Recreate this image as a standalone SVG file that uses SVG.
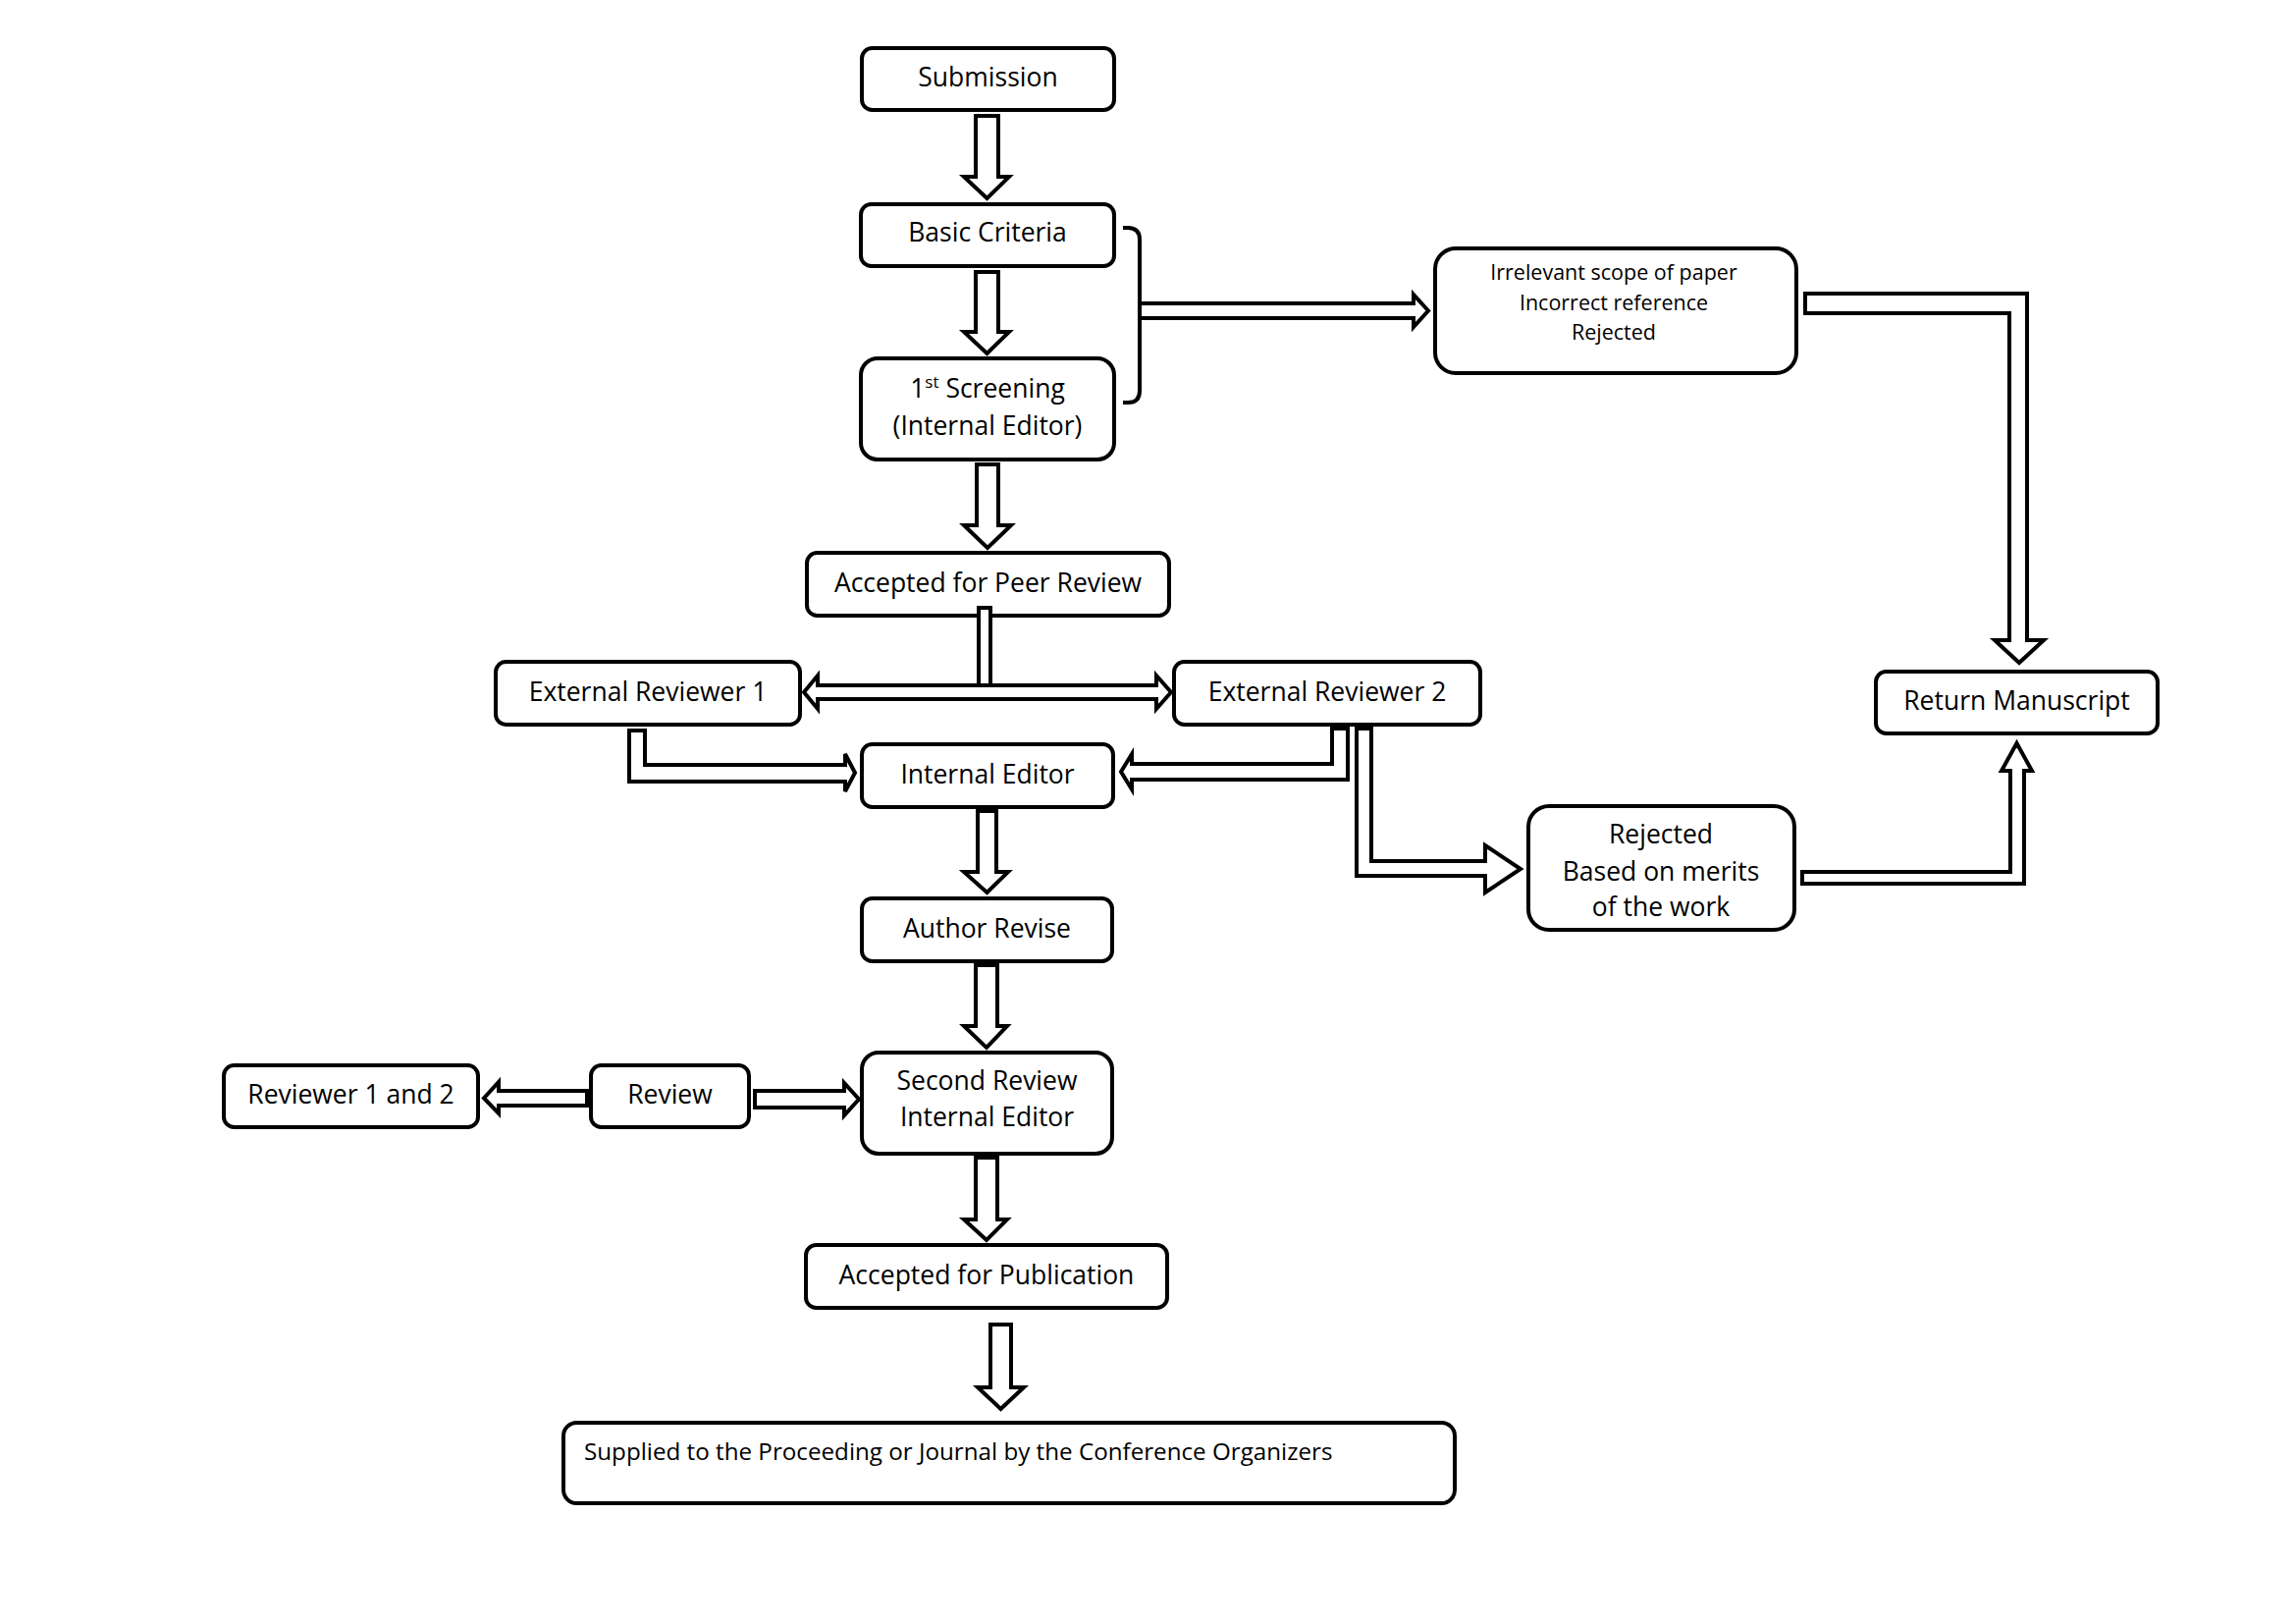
<svg xmlns="http://www.w3.org/2000/svg" width="2339" height="1654" viewBox="0 0 2339 1654">
<style>
.box{fill:#fff;stroke:#000;stroke-width:4}
.arr{fill:#fff;stroke:#000;stroke-width:4;stroke-linejoin:miter}
.br{fill:none;stroke:#000;stroke-width:4}
text{font-family:"Open Sans","Noto Sans","Liberation Sans",sans-serif;font-size:26.5px;fill:#000}
.c{text-anchor:middle}
.s{font-size:21.5px}
.m{font-size:24.2px}
</style>
<rect width="2339" height="1654" fill="#fff"/>
<g id="connectors">
<polygon class="arr" points="994,118 1017,118 1017,180 1028,180 1005.5,202 982,180 994,180"/>
<polygon class="arr" points="994,277 1017,277 1017,338 1028,338 1005.5,360 982,338 994,338"/>
<polygon class="arr" points="995,473 1017,473 1017,535 1030,535 1006,558 982,535 995,535"/>
<path class="br" d="M1144,232 H1149 Q1161,232 1161,244 V398 Q1161,410 1149,410 H1144"/>
<polygon class="arr" points="1161,309 1440,309 1440,300 1455,316.5 1440,333 1440,324 1161,324"/>
<polygon class="arr" points="1839,299 2065,299 2065,652 2082,652 2057,675 2032,652 2047,652 2047,319 1839,319"/>
<polygon class="arr" points="819,705 833,688 833,698 1178,698 1178,688 1193,705 1178,722 1178,712 833,712 833,722"/>
<polygon class="arr" points="641,744 657,744 657,779 861,779 861,768 871,787 861,806 861,796 641,796"/>
<polygon class="arr" points="1373,742 1357,742 1357,778 1153,778 1153,768 1142,786 1153,804 1153,794 1373,794"/>
<polygon class="arr" points="1382,742 1397,742 1397,877 1513,877 1513,861 1549,885 1513,909 1513,892 1382,892"/>
<polygon class="arr" points="1836,888 2048,888 2048,785 2039,785 2054.5,757 2070,785 2062,785 2062,900 1836,900"/>
<polygon class="arr" points="996,826 1015,826 1015,888 1027,888 1005.5,909 982,888 996,888"/>
<polygon class="arr" points="994,983 1016,983 1016,1045 1026,1045 1005,1067 982,1045 994,1045"/>
<polygon class="arr" points="994,1179 1016,1179 1016,1242 1026,1242 1005,1263 982,1242 994,1242"/>
<polygon class="arr" points="1009,1349 1030,1349 1030,1413 1043,1413 1019.5,1435 996,1413 1009,1413"/>
<polygon class="arr" points="598,1111 508,1111 508,1102 493,1118.5 508,1134 508,1126 598,1126"/>
<polygon class="arr" points="769,1111 860,1111 860,1103 875,1119.5 860,1136 860,1128 769,1128"/>
</g>
<g id="n-submission"><rect class="box" x="878" y="49" width="257" height="63" rx="10.5"/><text class="c" x="1006.5" y="88">Submission</text></g>
<g id="n-basic"><rect class="box" x="877" y="208" width="258" height="63" rx="10.5"/><text class="c" x="1006" y="246">Basic Criteria</text></g>
<g id="n-screening"><rect class="box" x="877" y="365" width="258" height="103" rx="17"/><text class="c" x="1006" y="405">1<tspan font-size="17" dy="-10">st</tspan><tspan dy="10"> Screening</tspan></text><text class="c" x="1006" y="443">(Internal Editor)</text></g>
<g id="n-irrelevant"><rect class="box" x="1462" y="253" width="368" height="127" rx="21"/><text class="c s" x="1644" y="285">Irrelevant scope of paper</text><text class="c s" x="1644" y="316">Incorrect reference</text><text class="c s" x="1644" y="346">Rejected</text></g>
<g id="n-peer"><rect class="box" x="822" y="563" width="369" height="64" rx="10.5"/><text class="c" x="1006.5" y="603">Accepted for Peer Review</text></g>
<rect class="arr" x="997" y="619" width="12" height="79"/>
<g id="n-er1"><rect class="box" x="505" y="674" width="310" height="64" rx="10.5"/><text class="c" x="660" y="714">External Reviewer 1</text></g>
<g id="n-er2"><rect class="box" x="1196" y="674" width="312" height="64" rx="10.5"/><text class="c" x="1352" y="714">External Reviewer 2</text></g>
<g id="n-ie"><rect class="box" x="878" y="758" width="256" height="64" rx="10.5"/><text class="c" x="1006" y="798">Internal Editor</text></g>
<g id="n-rejected"><rect class="box" x="1557" y="821" width="271" height="126" rx="21"/><text class="c" x="1692" y="859">Rejected</text><text class="c" x="1692" y="897">Based on merits</text><text class="c" x="1692" y="933">of the work</text></g>
<g id="n-return"><rect class="box" x="1911" y="684" width="287" height="63" rx="10.5"/><text class="c" x="2054.5" y="723">Return Manuscript</text></g>
<g id="n-author"><rect class="box" x="878" y="915" width="255" height="64" rx="10.5"/><text class="c" x="1005.5" y="955">Author Revise</text></g>
<g id="n-second"><rect class="box" x="878" y="1072" width="255" height="103" rx="17"/><text class="c" x="1005.5" y="1110">Second Review</text><text class="c" x="1005.5" y="1147">Internal Editor</text></g>
<g id="n-rev12"><rect class="box" x="228" y="1085" width="259" height="63" rx="10.5"/><text class="c" x="357.5" y="1124">Reviewer 1 and 2</text></g>
<g id="n-review"><rect class="box" x="602" y="1085" width="161" height="63" rx="10.5"/><text class="c" x="682.5" y="1124">Review</text></g>
<g id="n-pub"><rect class="box" x="821" y="1268" width="368" height="64" rx="10.5"/><text class="c" x="1005" y="1308">Accepted for Publication</text></g>
<g id="n-supplied"><rect class="box" x="574" y="1449" width="908" height="82" rx="13.5"/><text class="m" x="595" y="1487">Supplied to the Proceeding or Journal by the Conference Organizers</text></g>
</svg>
